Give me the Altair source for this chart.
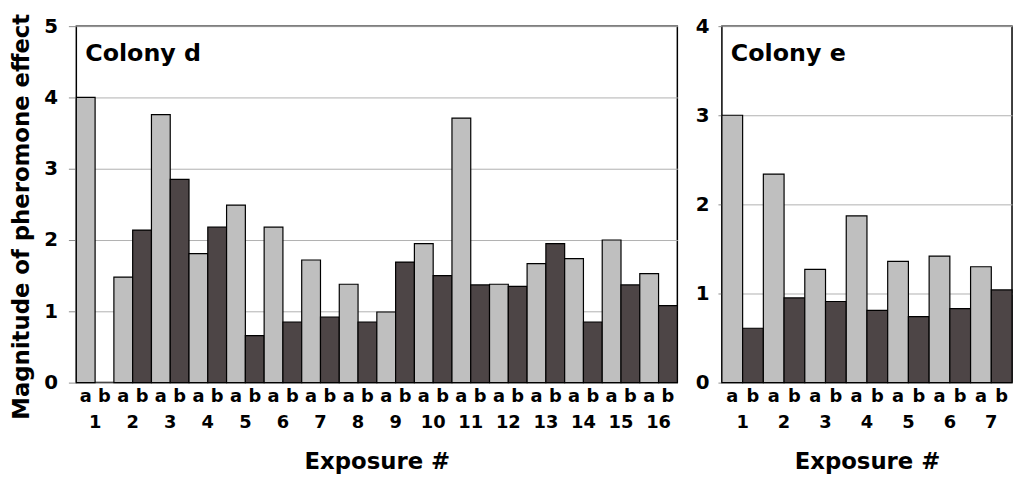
import altair as alt
import pandas as pd

# Colony d: exposures 1-16, conditions a (light) and b (dark)
d_exposures = list(range(1, 17))
d_a = [4.00, 1.48, 3.76, 1.81, 2.49, 2.18, 1.72, 1.38, 0.99, 1.95, 3.71, 1.38, 1.67, 1.74, 2.00, 1.53]
d_b = [0.00, 2.14, 2.85, 2.18, 0.66, 0.85, 0.92, 0.85, 1.69, 1.50, 1.37, 1.35, 1.95, 0.85, 1.37, 1.08]

# Colony e: exposures 1-7
e_exposures = list(range(1, 8))
e_a = [3.00, 2.34, 1.27, 1.87, 1.36, 1.42, 1.30]
e_b = [0.61, 0.95, 0.91, 0.81, 0.74, 0.83, 1.04]

FONT = "DejaVu Sans"
LIGHT = "#bfbfbf"
DARK = "#4d4546"
H = 360


def bars_table(exposures, a_vals, b_vals):
    rows = []
    for i, (ex, va, vb) in enumerate(zip(exposures, a_vals, b_vals)):
        rows.append({"pos": 2 * i, "pos2": 2 * i + 1, "mid": 2 * i + 0.5,
                     "value": va, "cond": "a", "exposure": ex})
        rows.append({"pos": 2 * i + 1, "pos2": 2 * i + 2, "mid": 2 * i + 1.5,
                     "value": vb, "cond": "b", "exposure": ex})
    return pd.DataFrame(rows)


def panel(exposures, a_vals, b_vals, ymax, width, label, ytitle, tick, lpad):
    df = bars_table(exposures, a_vals, b_vals)
    n = 2 * len(exposures)
    xscale = alt.Scale(domain=[0, n], nice=False, zero=False)
    yscale = alt.Scale(domain=[0, ymax], nice=False)
    yaxis_kwargs = dict(
        values=list(range(0, ymax + 1)),
        grid=True,
        gridColor="#b0b0b0",
        gridWidth=1,
        domain=False,
        ticks=True,
        tickColor="#8c8c8c",
        tickSize=tick,
        labelPadding=lpad,
        labelFont=FONT,
        labelFontSize=20,
        labelFontWeight="bold",
        labelColor="black",
        format="d",
    )
    if ytitle:
        yaxis = alt.Axis(
            title=ytitle,
            titleFont=FONT,
            titleFontSize=23,
            titleFontWeight="bold",
            titleColor="black",
            titlePadding=10,
            titleY=192,
            **yaxis_kwargs,
        )
    else:
        yaxis = alt.Axis(title=None, **yaxis_kwargs)

    bars = alt.Chart(df).transform_filter("datum.value > 0").mark_bar(
        stroke="black", strokeWidth=1.2
    ).encode(
        x=alt.X(
            "pos:Q",
            scale=xscale,
            axis=alt.Axis(
                labels=False,
                grid=False,
                domain=False,
                ticks=False,
                title="Exposure #",
                titleFont=FONT,
                titleFontSize=23,
                titleFontWeight="bold",
                titleColor="black",
                titlePadding=69,
            ),
        ),
        x2="pos2:Q",
        y=alt.Y("value:Q", scale=yscale, axis=yaxis),
        y2=alt.datum(0),
        color=alt.Color(
            "cond:N",
            scale=alt.Scale(domain=["a", "b"], range=[LIGHT, DARK]),
            legend=None,
        ),
    )

    condtext = alt.Chart(df).mark_text(
        font=FONT, fontSize=18, fontWeight="bold", color="black", baseline="middle"
    ).encode(
        x=alt.X("mid:Q", scale=xscale),
        y=alt.value(H + 15),
        text="cond:N",
    )

    nums = pd.DataFrame({"center": [2 * i + 1 for i in range(len(exposures))],
                         "num": [str(e) for e in exposures]})
    numtext = alt.Chart(nums).mark_text(
        font=FONT, fontSize=18, fontWeight="bold", color="black", baseline="middle"
    ).encode(
        x=alt.X("center:Q", scale=xscale),
        y=alt.value(H + 41),
        text="num:N",
    )

    lab = alt.Chart(pd.DataFrame({"t": [label]})).mark_text(
        font=FONT, fontSize=24, fontWeight="bold", color="black", align="left", baseline="middle"
    ).encode(x=alt.value(9), y=alt.value(28), text="t:N")

    return alt.layer(bars, condtext, numtext, lab).properties(width=width, height=H)


left = panel(d_exposures, d_a, d_b, 5, 607, "Colony d", "Magnitude of pheromone effect", 8, 11)
right = panel(e_exposures, e_a, e_b, 4, 293, "Colony e", None, 4, 9)

chart = alt.hconcat(left, right, spacing=15).properties(
    padding={"left": 2, "top": 2, "right": 0, "bottom": 0}
).configure(background="white").configure_view(stroke="black", strokeWidth=1.5)

chart.save("out.html", embed_options={"renderer": "svg", "actions": False})
